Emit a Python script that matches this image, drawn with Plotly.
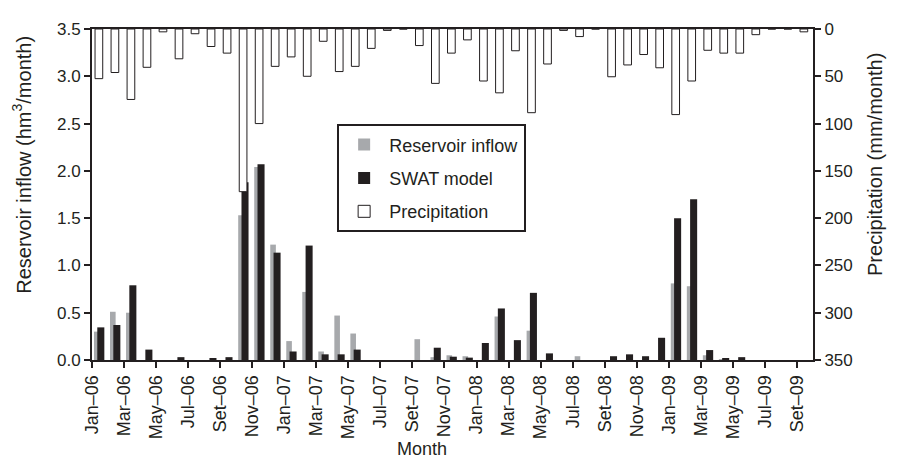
import plotly.graph_objects as go

# Month index 0 = Jan-06 ... 44 = Set-09
tick_labels = ["Jan–06", "Mar–06", "May–06", "Jul–06", "Set–06", "Nov–06",
               "Jan–07", "Mar–07", "May–07", "Jul–07", "Set–07", "Nov–07",
               "Jan–08", "Mar–08", "May–08", "Jul–08", "Set–08", "Nov–08",
               "Jan–09", "Mar–09", "May–09", "Jul–09", "Set–09"]

reservoir_inflow = [0.30, 0.51, 0.50, 0, 0, 0, 0, 0, 0, 1.53, 2.04, 1.22,
                    0.20, 0.72, 0.09, 0.47, 0.28, 0, 0, 0, 0.22, 0.03, 0.05, 0.04,
                    0, 0.46, 0, 0.31, 0, 0, 0.04, 0, 0, 0, 0, 0,
                    0.81, 0.78, 0.05, 0.01, 0, 0, 0, 0, 0]

swat_model = [0.345, 0.37, 0.79, 0.11, 0, 0.03, 0, 0.02, 0.03, 1.88, 2.07, 1.135,
              0.09, 1.21, 0.06, 0.06, 0.11, 0, 0, 0, 0, 0.13, 0.035, 0.025,
              0.18, 0.545, 0.21, 0.71, 0.07, 0, 0, 0, 0.04, 0.06, 0.04, 0.235,
              1.50, 1.70, 0.105, 0.02, 0.03, 0, 0, 0, 0]

precipitation = [52.5, 46, 74.5, 40.5, 3, 31.5, 5, 18.5, 25.5, 172, 100, 39.5,
                 29.5, 50, 13, 45, 39.5, 20.5, 1.5, 0, 17.5, 57.5, 25.5, 11.5,
                 55, 67.5, 23, 88.5, 37, 1.5, 8, 0, 50.5, 38, 27, 41,
                 90.5, 55, 22.5, 25.5, 25.5, 6, 0, 0, 3]

n = len(precipitation)
idx = list(range(n))
INK = "#231f20"
GRAY = "#a7a9ac"
FONT = "Liberation Sans, Arial, Helvetica, sans-serif"

fig = go.Figure()
fig.add_trace(go.Bar(
    x=[i + 0.30 for i in idx], y=reservoir_inflow, width=0.35,
    marker=dict(color=GRAY, line=dict(width=0)),
    name="Reservoir inflow", legendgroup="a"))
fig.add_trace(go.Bar(
    x=[i + 0.55 for i in idx], y=swat_model, width=0.44,
    marker=dict(color=INK, line=dict(width=0)),
    name="SWAT model", legendgroup="b"))
fig.add_trace(go.Bar(
    x=[i + 0.43 for i in idx], y=precipitation, width=0.48,
    marker=dict(color="white", line=dict(color=INK, width=1)),
    name="Precipitation", yaxis="y2", legendgroup="c"))

fig.update_layout(
    width=881, height=454,
    margin=dict(l=84, r=76, t=14, b=102),
    paper_bgcolor="white", plot_bgcolor="white",
    barmode="overlay",
    font=dict(family=FONT, size=17, color=INK),
    showlegend=True,
    legend=dict(x=0.34, y=0.712, xanchor="left", yanchor="top",
                bgcolor="white", bordercolor=INK, borderwidth=2,
                font=dict(size=18), traceorder="grouped", tracegroupgap=7,
                itemwidth=40, entrywidth=150),
    xaxis=dict(range=[0, n], tickmode="array",
               tickvals=list(range(0, n, 2)), ticktext=tick_labels,
               tickangle=-90, ticks="outside", ticklen=6, tickwidth=2,
               tickfont=dict(size=18),
               tickcolor=INK, showline=True, linecolor=INK, linewidth=2,
               mirror=True, showgrid=False, zeroline=False),
    yaxis=dict(range=[0, 3.5], tickvals=[0, 0.5, 1, 1.5, 2, 2.5, 3, 3.5],
               tickformat=".1f", ticks="outside", ticklen=6, tickwidth=2,
               tickcolor=INK, showline=True, linecolor=INK, linewidth=2,
               showgrid=False, zeroline=False),
    yaxis2=dict(range=[350, 0], tickvals=[0, 50, 100, 150, 200, 250, 300, 350],
                overlaying="y", side="right", ticks="outside", ticklen=6,
                tickwidth=2, tickcolor=INK, showline=True, linecolor=INK,
                linewidth=2, showgrid=False, zeroline=False),
    annotations=[
        dict(text="Month", xref="paper", yref="paper", x=0.458, y=-0.27,
             xanchor="center", yanchor="middle", showarrow=False,
             font=dict(size=18)),
        dict(text="Reservoir inflow (hm<sup>3</sup>/month)", xref="paper",
             yref="paper", x=-0.097, y=0.59, xanchor="center", yanchor="middle",
             textangle=-90, showarrow=False, font=dict(size=20)),
        dict(text="Precipitation (mm/month)", xref="paper", yref="paper",
             x=1.085, y=0.59, xanchor="center", yanchor="middle",
             textangle=-90, showarrow=False, font=dict(size=20)),
    ],
)

fig.write_html("out.html")
